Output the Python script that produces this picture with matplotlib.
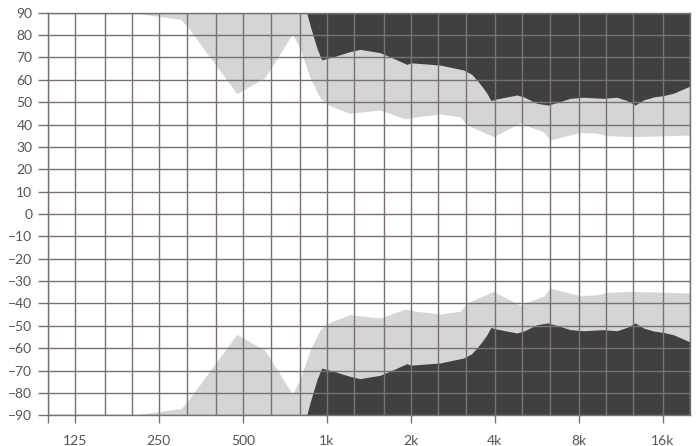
import matplotlib
matplotlib.use("Agg")
import matplotlib.pyplot as plt
import numpy as np

# light band boundary (upper half, mirrored below)
light_f = [200, 300, 318, 476, 600, 753, 802, 871, 946, 1000, 1100, 1211, 1380,
           1552, 1908, 2100, 2546, 3003, 3174, 3953, 4928, 5206, 5972, 6311,
           7025, 8083, 9278, 10216, 12520, 20000]
light_v = [90, 87, 83.5, 53.8, 61, 80.5, 74, 60.8, 51.9, 49, 47, 45, 45.8,
           46.5, 42.5, 43.5, 44.7, 43.5, 39.8, 34.6, 40.8, 39.4, 36.8, 33.1,
           34.6, 36.5, 36.1, 35, 34.6, 35.3]

# dark band boundary
dark_f = [847, 870, 895, 925, 959, 1056, 1211, 1316, 1552, 1732, 1935, 2000,
          2546, 3086, 3300, 3446, 3600, 3743, 3870, 4000, 4793, 5063, 5654,
          6194, 6672, 7442, 8306, 9796, 10940, 11890, 12730, 13630, 14900,
          16000, 17460, 20000]
dark_v = [90, 84.5, 79.3, 73.5, 68.9, 70.3, 72.6, 73.6, 72.1, 69.6, 66.9, 67.6,
          66.6, 64.4, 62.5, 59.9, 57, 54, 50.7, 51.3, 53.2, 52.4, 49.5,
          48.7, 49.8, 51.7, 52.2, 51.7, 52.2, 50.7, 48.7, 51, 52.4,
          52.9, 54, 57.2]

third_oct = [100, 125, 160, 200, 250, 315, 400, 500, 630, 800, 1000, 1250, 1600,
             2000, 2500, 3150, 4000, 5000, 6300, 8000, 10000, 12500, 16000, 20000]
tick_f = [100, 125, 250, 500, 1000, 2000, 4000, 8000, 16000]
tick_lab = ['', '125', '250', '500', '1k', '2k', '4k', '8k', '16k']
y_ticks = list(range(-90, 91, 10))

light_c = '#d5d5d5'
dark_c = '#404040'
grid_c = '#7d6f6f'
text_c = '#555555'

plt.rcParams['font.family'] = ['Lato', 'DejaVu Sans']

fig = plt.figure(figsize=(6.99, 4.46), dpi=100)
ax = fig.add_axes([47.7 / 699, 1 - 415.3 / 446, (690 - 47.7) / 699, (415.3 - 12.7) / 446])

lf = np.array(light_f)
lv = np.array(light_v)
df = np.array(dark_f)
dv = np.array(dark_v)

ax.fill_between(lf, lv, 90, color=light_c, lw=0, zorder=1)
ax.fill_between(lf, -lv, -90, color=light_c, lw=0, zorder=1)
ax.fill_between(df, dv, 90, color=dark_c, lw=0, zorder=1.5)
ax.fill_between(df, -dv, -90, color=dark_c, lw=0, zorder=1.5)

ax.set_xscale('log')
ax.set_xlim(100, 20000)
ax.set_ylim(-90, 90)

ax.set_xticks(third_oct, minor=True)
ax.set_xticks(tick_f)
ax.set_xticklabels(tick_lab)
ax.xaxis.set_minor_formatter(matplotlib.ticker.NullFormatter())
ax.set_yticks(y_ticks)
ax.set_yticklabels([str(v).replace('-', '\u2212') for v in y_ticks])

ax.set_axisbelow(False)
ax.grid(True, which='both', axis='x', color=grid_c, lw=1.0)
ax.grid(True, which='major', axis='y', color=grid_c, lw=1.0)

ax.tick_params(axis='x', which='major', length=6, width=1.0, color=grid_c,
               labelcolor=text_c, labelsize=10, pad=8)
ax.tick_params(axis='x', which='minor', length=0)
ax.tick_params(axis='y', length=7, width=1.0, color=grid_c,
               labelcolor=text_c, labelsize=10, pad=4)

for s in ax.spines.values():
    s.set_color(grid_c)
    s.set_linewidth(1.0)

fig.savefig('out.png', dpi=100)
